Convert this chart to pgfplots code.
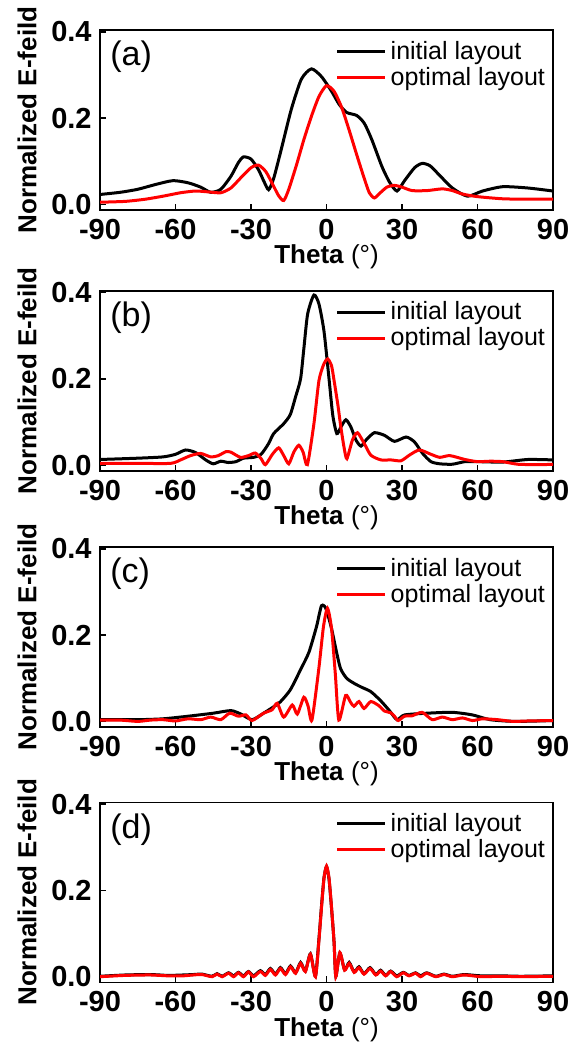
\documentclass[border=0pt]{standalone}
\usepackage{fontspec}
\setmainfont{Liberation Sans}
\usepackage{pgfplots}
\pgfplotsset{compat=1.18}

\pgfplotsset{
 myax/.style={
  width=226.5pt, height=90pt, scale only axis,
  xmin=-90, xmax=90, ymin=-0.013, ymax=0.404,
  xtick={-90,-60,-30,0,30,60,90}, xticklabels={-90,-60,-30,0,30,60,90},
  ytick={0,0.2,0.4}, yticklabels={0.0,0.2,0.4},
  xtick pos=bottom, ytick pos=left, tick align=inside,
  major tick length=3pt,
  tick label style={font=\fontsize{14.5}{16}\selectfont\bfseries},
  yticklabel style={inner sep=0pt, xshift=-4pt},
  xticklabel style={inner sep=0pt, yshift=-4.5pt},
  xlabel={\textbf{Theta} (°)}, ylabel={\textbf{Normalized E-feild}},
  label style={font=\fontsize{13}{15}\selectfont, inner sep=0pt},
  xlabel style={at={(axis description cs:0.5,0)}, anchor=center, yshift=-23.5pt},
  ylabel style={at={(axis description cs:-0.161,0.5)}, anchor=center},
  axis line style={line width=0.8pt},
  every tick/.style={black, line width=0.8pt},
  legend style={draw=none, fill=none, at={(0.515,0.975)}, anchor=north west,
    font=\fontsize{12.5}{14}\selectfont, row sep=-1.5pt, inner sep=1pt},
  legend cell align=left,
  legend image code/.code={\draw[#1] (0pt,0pt) -- (24pt,0pt);},
  every axis plot/.append style={line width=1.5pt, smooth, tension=0.4},
 }
}

\begin{document}
\begin{tikzpicture}
% ---------------- (a)
\begin{axis}[myax, at={(50pt,-105pt)}, anchor=south west]
\addplot[black] coordinates {
(-90,0.023) (-82,0.028) (-75,0.035) (-68,0.046) (-61,0.055) (-55,0.050) (-50,0.040)
(-46,0.028) (-42,0.035) (-38,0.065) (-35,0.097) (-33,0.110) (-30,0.105) (-27,0.080)
(-25,0.055) (-23,0.034) (-21,0.060) (-18,0.127) (-14,0.220) (-10,0.290) (-6,0.314)
(-2,0.296) (2,0.262) (5,0.232) (8,0.213) (12,0.206) (15,0.188) (18,0.150) (22,0.088)
(25,0.052) (28,0.031) (31,0.055) (35,0.085) (38,0.095) (41,0.090) (44,0.073) (50,0.038)
(56,0.019) (62,0.031) (70,0.041) (80,0.038) (90,0.031)};
\addplot[red] coordinates {
(-90,0.005) (-80,0.007) (-72,0.012) (-65,0.019) (-58,0.027) (-52,0.031) (-47,0.029)
(-42,0.027) (-38,0.038) (-34,0.062) (-30,0.085) (-27,0.091) (-24,0.075) (-21,0.042)
(-19,0.020) (-17,0.009) (-15,0.035) (-12,0.090) (-9,0.150) (-6,0.204) (-3,0.250)
(0,0.275) (3,0.262) (6,0.225) (9,0.172) (12,0.115) (15,0.060) (17,0.027) (19,0.015)
(21,0.025) (24,0.040) (27,0.044) (30,0.040) (34,0.032) (40,0.032) (46,0.036) (50,0.032)
(54,0.024) (60,0.018) (70,0.013) (80,0.012) (90,0.012)};
\legend{initial layout, optimal layout}
\node[anchor=west, inner sep=0pt, font=\fontsize{17}{20}\selectfont] at (rel axis cs:0.022,0.85) {(a)};
\end{axis}
% ---------------- (b)
\begin{axis}[myax, at={(50pt,-235.35pt)}, anchor=south west]
\addplot[black] coordinates {
(-90,0.013) (-75,0.016) (-65,0.019) (-60,0.025) (-56,0.035) (-52,0.029) (-48,0.012)
(-45,0.003) (-42,0.009) (-39,0.006) (-36,0.008) (-33,0.016) (-29,0.018) (-26,0.025)
(-23,0.050) (-21,0.073) (-17,0.096) (-14.4,0.117) (-12.3,0.158) (-10.3,0.200) (-9,0.270)
(-7.5,0.350) (-5,0.394) (-3,0.373) (-1,0.310) (1,0.200) (2.5,0.115) (4.1,0.073)
(5.7,0.088) (7.7,0.105) (9.7,0.088) (11.7,0.058) (13.7,0.044) (15.7,0.058) (19,0.075)
(23,0.069) (27,0.055) (31.6,0.065) (34.9,0.054) (38.2,0.027) (41.5,0.008) (45,0.003)
(50,0.002) (55,0.008) (60,0.008) (70,0.007) (80,0.013) (90,0.012)};
\addplot[red] coordinates {
(-90,0.004) (-75,0.004) (-62,0.004) (-58,0.012) (-54,0.022) (-50,0.027) (-46,0.019)
(-43,0.022) (-40,0.031) (-38,0.030) (-34.2,0.018) (-31,0.022) (-28.3,0.028) (-26,0.015)
(-24.3,0.001) (-21.5,0.025) (-19,0.040) (-17,0.022) (-15,0.003) (-13,0.030) (-11,0.046)
(-9.3,0.030) (-7.6,0.001) (-5,0.096) (-3,0.196) (-1,0.235) (0.5,0.246) (2,0.230)
(3,0.196) (4.5,0.140) (5.7,0.088) (7,0.040) (8.1,0.015) (10.3,0.058) (12.3,0.075)
(15,0.050) (17.6,0.023) (21.6,0.012) (25.6,0.012) (29.6,0.010) (32.9,0.023) (36.9,0.035)
(41.5,0.025) (45,0.018) (49,0.022) (55,0.013) (60,0.008) (65,0.009) (70,0.008)
(76,0.002) (85,0.001) (90,0.002)};
\legend{initial layout, optimal layout}
\node[anchor=west, inner sep=0pt, font=\fontsize{17}{20}\selectfont] at (rel axis cs:0.022,0.85) {(b)};
\end{axis}
% ---------------- (c)
\begin{axis}[myax, at={(50pt,-363.5pt)}, anchor=south west]
\addplot[black] coordinates {
(-90,0.004) (-75,0.004) (-65,0.006) (-55,0.012) (-45,0.019) (-38,0.025) (-34,0.017)
(-29.6,0.004) (-25,0.019) (-21,0.034) (-18.4,0.045) (-14.4,0.073) (-10.3,0.120)
(-7,0.160) (-4,0.219) (-3,0.245) (-2,0.268) (-1,0.268) (0,0.258) (2,0.215) (4,0.160)
(5.6,0.122) (8,0.100) (11,0.088) (14,0.079) (17.6,0.069) (21.5,0.048) (25,0.025)
(28,0.004) (31,0.015) (40,0.019) (50,0.021) (58,0.015) (65,0.004) (75,0.000) (90,0.002)};
\addplot[red] coordinates {
(-90,0.003) (-82,0.003) (-75,0.000) (-70,0.003) (-65,0.004) (-60,0.001) (-55,0.006)
(-50,0.004) (-46,0.010) (-42,0.004) (-38.5,0.019) (-35,0.012) (-32,0.015) (-29.6,0.002)
(-25,0.019) (-21.6,0.027) (-19.6,0.042) (-17,0.010) (-13.6,0.038) (-11.6,0.017)
(-9,0.056) (-7.3,0.035) (-5.8,0.003) (-3.1,0.120) (-1.2,0.220) (0.4,0.262) (2,0.215)
(3.5,0.110) (4.9,0.003) (7.6,0.060) (9.5,0.045) (10.9,0.035) (12.9,0.046) (14.9,0.030)
(17.6,0.046) (20.9,0.036) (23,0.024) (25.5,0.020) (27,0.012) (28.5,0.002) (31,0.012)
(34,0.013) (38,0.021) (42,0.004) (46,0.010) (50,0.004) (54,0.008) (58,0.002) (62,0.006)
(68,0.004) (74,0.000) (80,0.001) (90,0.002)};
\legend{initial layout, optimal layout}
\node[anchor=west, inner sep=0pt, font=\fontsize{17}{20}\selectfont] at (rel axis cs:0.022,0.85) {(c)};
\end{axis}
% ---------------- (d)
\begin{axis}[myax, at={(50pt,-491.15pt)}, anchor=south west]
\addplot[black] coordinates {
(-90,0.001) (-80,0.004) (-70,0.005) (-63,0.003) (-57,0.004) (-53,0.005) (-49.5,0.006)
(-45.5,0.001) (-43.5,0.007) (-41.5,0.001) (-38.9,0.009) (-36.9,0.002) (-35,0.010)
(-33,0.002) (-31,0.012) (-29,0.002) (-26.3,0.014) (-24.3,0.005) (-22.3,0.019)
(-20.3,0.006) (-18.3,0.021) (-16.3,0.007) (-14.3,0.025) (-12.3,0.009) (-10.3,0.033)
(-8.4,0.013) (-6.4,0.053) (-4.4,0.001) (-3,0.088) (-2,0.163) (-1,0.229) (0,0.255)
(1,0.226) (2,0.158) (3,0.080) (3.7,0.001) (5.3,0.055) (7.2,0.016) (9.0,0.033)
(11.0,0.011) (12.9,0.023) (14.9,0.007) (17.3,0.021) (19.6,0.005) (21.5,0.015)
(23.5,0.003) (25.5,0.013) (27.9,0.002) (30.5,0.010) (32.8,0.003) (35.4,0.009)
(37.4,0.002) (39.8,0.009) (43.4,0.001) (46.7,0.006) (50,0.001) (54.7,0.005)
(61.3,0.002) (69.3,0.002) (77.3,0.001) (90,0.002)};
\addplot[red] coordinates {
(-90,0.000) (-80,0.003) (-70,0.004) (-63,0.002) (-57,0.002) (-53,0.004) (-49.5,0.005)
(-45.5,0.000) (-43.5,0.006) (-41.5,0.000) (-38.9,0.008) (-36.9,0.000) (-35,0.009)
(-33,0.000) (-31,0.011) (-29,0.000) (-26.3,0.012) (-24.3,0.003) (-22.3,0.017)
(-20.3,0.004) (-18.3,0.019) (-16.3,0.005) (-14.3,0.023) (-12.3,0.008) (-10.3,0.031)
(-8.4,0.012) (-6.4,0.052) (-4.4,0.000) (-3,0.085) (-2,0.160) (-1,0.228) (0,0.256)
(1,0.228) (2,0.160) (3,0.080) (3.7,0.000) (5.3,0.056) (7.2,0.015) (9.0,0.031)
(11.0,0.010) (12.9,0.021) (14.9,0.006) (17.3,0.019) (19.6,0.004) (21.5,0.013)
(23.5,0.002) (25.5,0.012) (27.9,0.000) (30.5,0.009) (32.8,0.002) (35.4,0.008)
(37.4,0.000) (39.8,0.008) (43.4,0.000) (46.7,0.005) (50,0.000) (54.7,0.004)
(61.3,0.000) (69.3,0.001) (77.3,0.000) (90,0.001)};
\legend{initial layout, optimal layout}
\node[anchor=west, inner sep=0pt, font=\fontsize{17}{20}\selectfont] at (rel axis cs:0.022,0.85) {(d)};
\end{axis}
\pgfresetboundingbox
\path (0pt,0pt) rectangle (289.5pt,-523pt);
\end{tikzpicture}
\end{document}
